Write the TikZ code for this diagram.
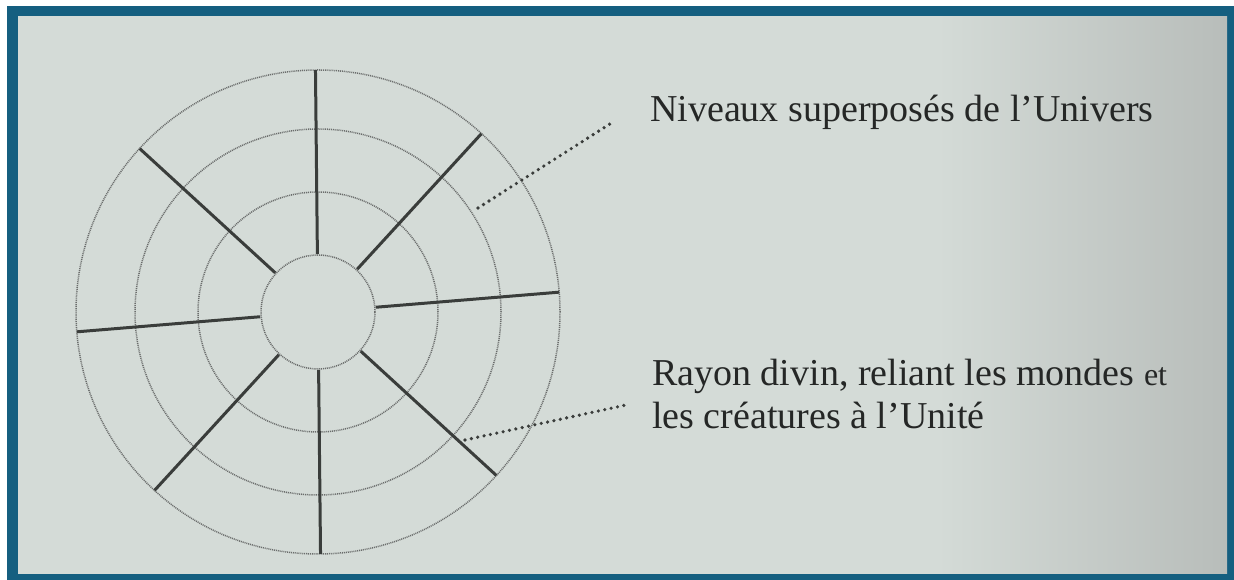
\documentclass[tikz,border=0pt]{standalone}
\usepackage{fontspec}
\setmainfont{Liberation Serif}
\usetikzlibrary{positioning}
\definecolor{cadre}{HTML}{155F80}
\definecolor{papier}{HTML}{D4DBD7}
\definecolor{papierD}{HTML}{B8BDBA}
\definecolor{trait}{HTML}{3A3D3B}
\definecolor{encre}{HTML}{252726}
\pgfdeclarehorizontalshading{feuille}{100bp}{color(0bp)=(papier); color(25bp)=(papier);
    color(63bp)=(papier); color(75bp)=(papierD); color(100bp)=(papierD)}

\begin{document}
\begin{tikzpicture}[x=1pt,y=1pt,
    cercle/.style={line width=1.5pt, draw=trait!75, dash pattern=on 1pt off 0.9pt},
    rayon/.style={line width=3pt, draw=trait},
    pointille/.style={line width=3.6pt, draw=trait, line cap=round, dash pattern=on 0pt off 6.5pt},
    legende/.style={anchor=base west, inner sep=0pt, text=encre, align=left,
        font=\fontsize{38}{43}\selectfont}]
        % Cadre
        \useasboundingbox (0,0) rectangle (1234,580);
        \fill[white] (0,0) rectangle (1234,580);
        \fill[cadre] (7,0) rectangle (1234,574);
        \shade[shading=feuille] (18,6) rectangle (1227,563);

        % Cercles
        \coordinate (O) at (318,268);
        \draw[cercle] (O) circle[radius=57];
        \draw[cercle] (O) circle[radius=120];
        \draw[cercle] (O) circle[radius=183];
        \draw[cercle] (O) circle[radius=242];

        % Rayons
        \foreach \a in {90.6, 47.5, 4.7, 137.5} {
            \draw[rayon] (O) ++(\a:58) -- ++(\a:184);
            \draw[rayon] (O) ++(\a+180:58) -- ++(\a+180:184);
        }

        % Labels
        \node[legende] (niveaux) at (650,458) {Niveaux superposés de l’Univers};
        \node[legende] (rayons) at (652,151) {Rayon divin, reliant les mondes {\fontsize{32}{43}\selectfont et}\\les créatures à l’Unité};

        % Traits pointilles
        \coordinate (n1) at (478,372);
        \coordinate (n2) at (613,458);
        \coordinate (r1) at (465,140);
        \coordinate (r2) at (626,175);
        \draw[pointille] (n1) -- (n2);
        \draw[pointille] (r1) -- (r2);
    \end{tikzpicture}
\end{document}
